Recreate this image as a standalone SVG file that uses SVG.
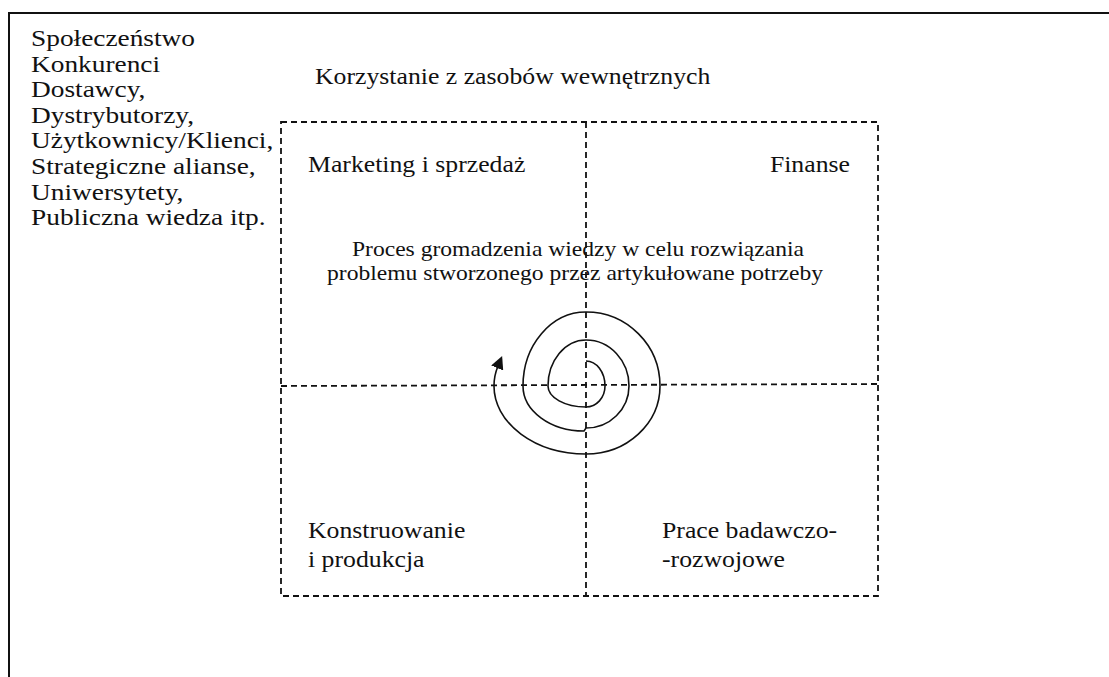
<svg xmlns="http://www.w3.org/2000/svg" width="1109" height="677" viewBox="0 0 1109 677">
<defs>
<style>
text{font-family:"Liberation Serif","Times New Roman",serif;fill:#111}
.lst{font-size:24px}
.lbl{font-size:23px}
.prc{font-size:20.5px}
.dash{fill:none;stroke:#111;stroke-width:1.8;stroke-dasharray:6 4}
.frame{fill:none;stroke:#111;stroke-width:2}
.spiral{fill:none;stroke:#111;stroke-width:1.6}
</style>
<marker id="arr" viewBox="0 0 12 12" refX="2" refY="6" markerWidth="13" markerHeight="13" markerUnits="userSpaceOnUse" orient="auto">
<path d="M0,0 L12,6 L0,12 Z" fill="#111"/>
</marker>
</defs>
<path class="frame" d="M9,677 V13 H1109"/>
<g id="external" class="lst">
<text class="lst" transform="translate(31,46) scale(1.14,1)">Społeczeństwo</text>
<text class="lst" transform="translate(31,71.6) scale(1.14,1)">Konkurenci</text>
<text class="lst" transform="translate(31,97.2) scale(1.14,1)">Dostawcy,</text>
<text class="lst" transform="translate(31,122.8) scale(1.14,1)">Dystrybutorzy,</text>
<text class="lst" transform="translate(31,148.4) scale(1.14,1)">Użytkownicy/Klienci,</text>
<text class="lst" transform="translate(31,174) scale(1.14,1)">Strategiczne alianse,</text>
<text class="lst" transform="translate(31,199.6) scale(1.14,1)">Uniwersytety,</text>
<text class="lst" transform="translate(31,225.2) scale(1.14,1)">Publiczna wiedza itp.</text>
</g>
<g id="title"><text class="lbl" transform="translate(315,84) scale(1.12,1)">Korzystanie z zasobów wewnętrznych</text></g>
<g id="grid">
<rect class="dash" x="281" y="122" width="597" height="474"/>
<line class="dash" x1="586" y1="122" x2="586" y2="596"/>
<line class="dash" x1="281" y1="386" x2="878" y2="384"/>
</g>
<g id="marketing"><text class="lbl" transform="translate(308,172) scale(1.12,1)">Marketing i sprzedaż</text></g>
<g id="finanse"><text class="lbl" text-anchor="end" transform="translate(850,172) scale(1.12,1)">Finanse</text></g>
<g id="konstruowanie"><text class="lbl" transform="translate(308,538) scale(1.12,1)">Konstruowanie</text><text class="lbl" transform="translate(308,567) scale(1.12,1)">i produkcja</text></g>
<g id="badania"><text class="lbl" transform="translate(662,538) scale(1.12,1)">Prace badawczo-</text><text class="lbl" transform="translate(662,567) scale(1.12,1)">-rozwojowe</text></g>
<g id="proces">
<text class="prc" text-anchor="middle" transform="translate(578,256) scale(1.15,1)">Proces gromadzenia wiedzy w celu rozwiązania</text>
<text class="prc" text-anchor="middle" transform="translate(575,280) scale(1.15,1)">problemu stworzonego przez artykułowane potrzeby</text>
</g>
<g id="connectors">
<path class="spiral" marker-end="url(#arr)" d="M586,361 A19,25 0 0 1 605,386 A19,21 0 0 1 586,407 A38,21 0 0 1 548,386 A38,46 0 0 1 586,340 A43,46 0 0 1 629,386 A43,42 0 0 1 586,428 L584,431 A61,45 0 0 1 523,386 A63,74 0 0 1 586,312 A74,74 0 0 1 660,386 A74,68 0 0 1 586,454 A92,68 0 0 1 494,386 A92,68 0 0 1 498,366"/>
</g>
</svg>
